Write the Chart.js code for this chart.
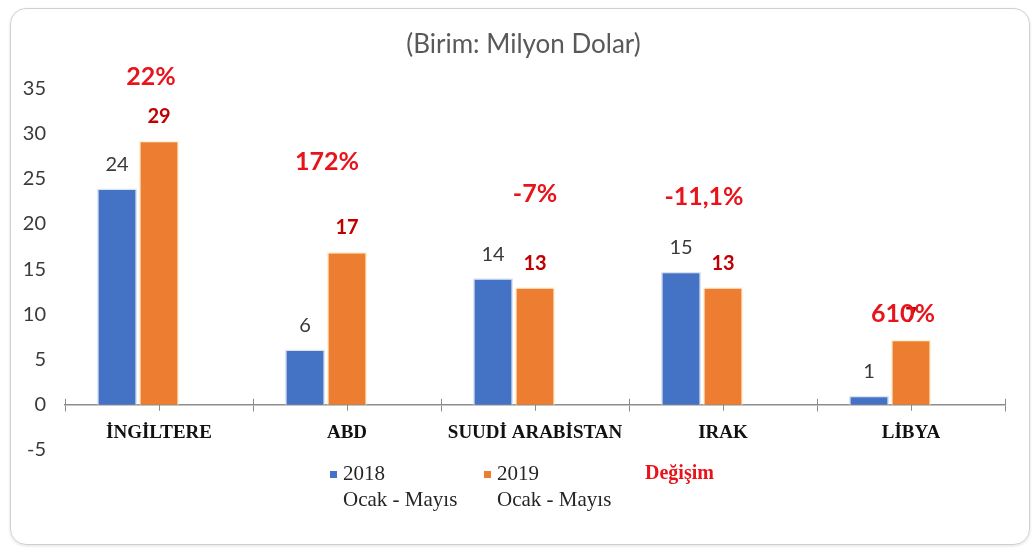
<!DOCTYPE html>
<html>
<head>
<meta charset="utf-8">
<script src="https://cdn.jsdelivr.net/npm/chart.js@4.4.1/dist/chart.umd.min.js"></script>
<style>
  html, body { margin: 0; padding: 0; background: #ffffff; }
  #frame {
    position: absolute; left: 10px; top: 8px; width: 1018px; height: 535px;
    border: 1px solid #cfcfcf; border-radius: 16px; box-shadow: 0 1px 3px rgba(0,0,0,0.12);
  }
  #wrap { position: absolute; left: 0; top: 0; width: 1033px; height: 548px; }
</style>
</head>
<body>
<div id="frame"></div>
<div id="wrap"><canvas id="chart"></canvas></div>
<script>
const categories = ['İNGİLTERE', 'ABD', 'SUUDİ ARABİSTAN', 'IRAK', 'LİBYA'];
const values2018 = [23.9, 6.1, 14.0, 14.7, 1.0];
const values2019 = [29.2, 16.9, 13.0, 13.0, 7.2];
const changePct = [22, 172, -7, -11.1, 610];
const seriesNames = ['2018\nOcak - Mayıs', '2019\nOcak - Mayıs', 'Değişim'];
const yMin = -5;
const yMax = 35;
const yStep = 5;

// where the red change labels sit: dx in px from category centre, y in axis units
const changeLabelPos = [
  { dx: -8, y: 36.2 },
  { dx: -20, y: 26.8 },
  { dx: 0, y: 23.3 },
  { dx: -19, y: 23.0 },
  { dx: -8, y: 10.0 }
];

function fmtPct(v) {
  return String(v).replace('.', ',') + '%';
}

const labelPlugin = {
  id: 'barLabels',
  afterDatasetsDraw(chart) {
    const ctx = chart.ctx;
    const xs = chart.scales.x;
    const ys = chart.scales.y;
    ctx.save();
    // extra tick marks: boundaries cross the axis, centres point down
    const y0 = ys.getPixelForValue(0);
    ctx.strokeStyle = '#8c8c8c';
    ctx.lineWidth = 1;
    ctx.beginPath();
    for (let i = 0; i <= categories.length; i++) {
      const bx = Math.round(xs.getPixelForValue(i - 0.5)) + 0.5;
      ctx.moveTo(bx, y0 - 6);
      ctx.lineTo(bx, y0);
    }
    categories.forEach((c, i) => {
      const cx = Math.round(xs.getPixelForValue(i)) + 0.5;
      ctx.moveTo(cx, y0);
      ctx.lineTo(cx, y0 + 6);
    });
    ctx.stroke();

    ctx.textAlign = 'center';
    ctx.textBaseline = 'middle';
    [0, 1].forEach(di => {
      const meta = chart.getDatasetMeta(di);
      const data = chart.data.datasets[di].data;
      ctx.font = di === 0 ? '20px Lato' : 'bold 20px Lato';
      ctx.fillStyle = di === 0 ? '#3a3a3a' : '#c00000';
      meta.data.forEach((bar, i) => {
        ctx.fillText(String(Math.round(data[i])), bar.x, bar.y - 24);
      });
    });
    ctx.font = 'bold 25px Lato';
    ctx.fillStyle = '#e8141c';
    changePct.forEach((v, i) => {
      const p = changeLabelPos[i];
      ctx.fillText(fmtPct(v), xs.getPixelForValue(i) + p.dx, ys.getPixelForValue(p.y));
    });
    ctx.restore();
  }
};

const legendPlugin = {
  id: 'twoLineLegend',
  afterDraw(chart) {
    const ctx = chart.ctx;
    const items = [
      { x: 330, marker: true },
      { x: 484, marker: true },
      { x: 645, marker: false }
    ];
    ctx.save();
    ctx.textBaseline = 'middle';
    ctx.textAlign = 'left';
    chart.data.datasets.forEach((ds, i) => {
      const it = items[i];
      const lines = seriesNames[i].split('\n');
      let tx = it.x;
      if (it.marker) {
        ctx.fillStyle = ds.backgroundColor;
        ctx.fillRect(it.x, 471, 7, 7);
        tx = it.x + 13;
        ctx.font = '21px "Liberation Serif"';
        ctx.fillStyle = '#262626';
      } else {
        ctx.font = 'bold 20px "Liberation Serif"';
        ctx.fillStyle = '#e8141c';
      }
      lines.forEach((ln, k) => ctx.fillText(ln, tx, 474 + k * 26));
    });
    ctx.restore();
  }
};

new Chart(document.getElementById('chart'), {
  type: 'bar',
  data: {
    labels: categories,
    datasets: [
      { label: seriesNames[0], data: values2018, backgroundColor: '#4472c4', borderColor: '#dae3f3', borderWidth: 1.5, yAxisID: 'y' },
      { label: seriesNames[1], data: values2019, backgroundColor: '#ed7d31', borderColor: '#fff2cc', borderWidth: 1.5, yAxisID: 'y' },
      { label: seriesNames[2], data: changePct, backgroundColor: 'rgba(0,0,0,0)', borderWidth: 0, yAxisID: 'yPct' }
    ]
  },
  plugins: [labelPlugin, legendPlugin],
  options: {
    responsive: true,
    maintainAspectRatio: false,
    animation: false,
    categoryPercentage: 0.67,
    barPercentage: 0.95,
    layout: { padding: { left: 14, right: 0, top: 0, bottom: 98 } },
    plugins: {
      legend: { display: false },
      tooltip: { enabled: false },
      title: {
        display: true,
        text: '(Birim: Milyon Dolar)',
        color: '#595959',
        font: { family: 'Lato', size: 26, weight: 'normal' },
        padding: { top: 29, bottom: 28 }
      }
    },
    scales: {
      x: {
        position: { y: 0 },
        grid: { display: true, drawOnChartArea: false, drawTicks: true, tickLength: 6, color: '#8c8c8c' },
        border: { display: true, color: '#8c8c8c', width: 1.5 },
        ticks: { color: '#111111', padding: 11, font: { family: 'Liberation Serif', size: 19, weight: 'bold' } }
      },
      y: {
        min: yMin,
        max: yMax,
        afterFit(scale) { scale.width = 51; },
        grid: { display: false, drawTicks: false },
        border: { display: false },
        ticks: { stepSize: yStep, padding: 19, color: '#3a3a3a', font: { family: 'Lato', size: 20 } }
      },
      yPct: {
        position: 'right',
        afterFit(scale) { scale.width = 28; },
        grid: { display: false, drawTicks: false },
        border: { display: false },
        ticks: { display: false }
      }
    }
  }
});
</script>
</body>
</html>
